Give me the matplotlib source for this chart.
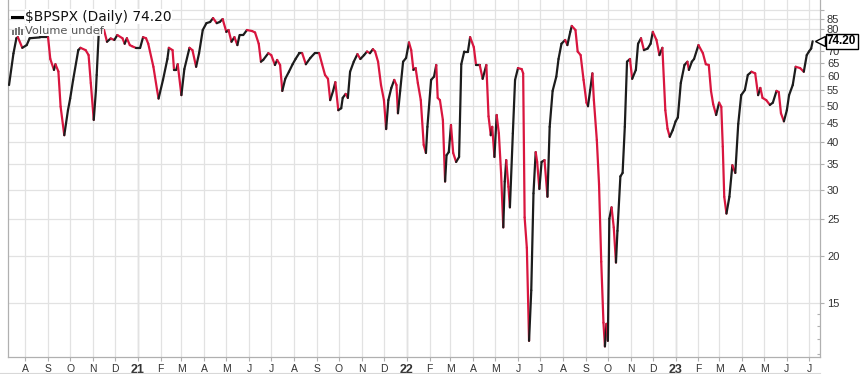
import matplotlib
matplotlib.use("Agg")
import matplotlib.pyplot as plt
import matplotlib.dates as mdates
from matplotlib.collections import LineCollection
from matplotlib.lines import Line2D
from matplotlib.patches import Rectangle
import numpy as np
import pandas as pd

# ---------------- data ----------------
dates = [
    "2020-07-10", "2020-07-16", "2020-07-20", "2020-07-22", "2020-07-28", "2020-08-03", "2020-08-07",
    "2020-08-21", "2020-09-01", "2020-09-04", "2020-09-09", "2020-09-11", "2020-09-15", "2020-09-18",
    "2020-09-23", "2020-09-28", "2020-10-01", "2020-10-05", "2020-10-12", "2020-10-15", "2020-10-22",
    "2020-10-26", "2020-10-29", "2020-11-02", "2020-11-05", "2020-11-06", "2020-11-09", "2020-11-16",
    "2020-11-20", "2020-11-25", "2020-11-30", "2020-12-04", "2020-12-11", "2020-12-14", "2020-12-17",
    "2020-12-21", "2020-12-24", "2020-12-29", "2021-01-04", "2021-01-08", "2021-01-12", "2021-01-15",
    "2021-01-22", "2021-01-27", "2021-01-29", "2021-02-04", "2021-02-10", "2021-02-12", "2021-02-17",
    "2021-02-19", "2021-02-22", "2021-02-24", "2021-03-01", "2021-03-05", "2021-03-12", "2021-03-16",
    "2021-03-21", "2021-03-25", "2021-03-30", "2021-04-04", "2021-04-09", "2021-04-13", "2021-04-18",
    "2021-04-22", "2021-04-26", "2021-05-01", "2021-05-04", "2021-05-08", "2021-05-12", "2021-05-16",
    "2021-05-19", "2021-05-24", "2021-05-29", "2021-06-05", "2021-06-09", "2021-06-14", "2021-06-17",
    "2021-06-20", "2021-06-27", "2021-07-01", "2021-07-06", "2021-07-09", "2021-07-13", "2021-07-16",
    "2021-07-20", "2021-07-25", "2021-07-30", "2021-08-03", "2021-08-08", "2021-08-12", "2021-08-17",
    "2021-08-23", "2021-08-29", "2021-09-04", "2021-09-08", "2021-09-12", "2021-09-16", "2021-09-19",
    "2021-09-23", "2021-09-26", "2021-09-30", "2021-10-04", "2021-10-06", "2021-10-10", "2021-10-13",
    "2021-10-16", "2021-10-21", "2021-10-26", "2021-10-30", "2021-11-04", "2021-11-08", "2021-11-12",
    "2021-11-16", "2021-11-19", "2021-11-23", "2021-11-27", "2021-12-01", "2021-12-04", "2021-12-07",
    "2021-12-11", "2021-12-15", "2021-12-18", "2021-12-20", "2021-12-23", "2021-12-27", "2021-12-31",
    "2022-01-04", "2022-01-07", "2022-01-10", "2022-01-13", "2022-01-16", "2022-01-20", "2022-01-24",
    "2022-01-27", "2022-01-29", "2022-02-03", "2022-02-07", "2022-02-10", "2022-02-12", "2022-02-15",
    "2022-02-19", "2022-02-22", "2022-02-24", "2022-02-27", "2022-03-02", "2022-03-05", "2022-03-09",
    "2022-03-13", "2022-03-16", "2022-03-20", "2022-03-25", "2022-03-28", "2022-04-02", "2022-04-05",
    "2022-04-10", "2022-04-14", "2022-04-19", "2022-04-22", "2022-04-25", "2022-04-27", "2022-04-30",
    "2022-05-03", "2022-05-06", "2022-05-09", "2022-05-12", "2022-05-14", "2022-05-16", "2022-05-19",
    "2022-05-21", "2022-05-25", "2022-05-28", "2022-06-01", "2022-06-06", "2022-06-08", "2022-06-10",
    "2022-06-13", "2022-06-16", "2022-06-19", "2022-06-22", "2022-06-25", "2022-06-27", "2022-06-30",
    "2022-07-03", "2022-07-07", "2022-07-11", "2022-07-14", "2022-07-18", "2022-07-23", "2022-07-26",
    "2022-07-30", "2022-08-04", "2022-08-07", "2022-08-11", "2022-08-13", "2022-08-18", "2022-08-21",
    "2022-08-25", "2022-08-29", "2022-09-02", "2022-09-04", "2022-09-07", "2022-09-10", "2022-09-12",
    "2022-09-16", "2022-09-19", "2022-09-22", "2022-09-25", "2022-09-27", "2022-09-29", "2022-10-01",
    "2022-10-03", "2022-10-06", "2022-10-09", "2022-10-12", "2022-10-14", "2022-10-18", "2022-10-21",
    "2022-10-24", "2022-10-27", "2022-10-31", "2022-11-03", "2022-11-08", "2022-11-11", "2022-11-15",
    "2022-11-19", "2022-11-24", "2022-11-28", "2022-12-01", "2022-12-06", "2022-12-10", "2022-12-14",
    "2022-12-18", "2022-12-21", "2022-12-24", "2022-12-28", "2023-01-01", "2023-01-04", "2023-01-08",
    "2023-01-13", "2023-01-17", "2023-01-19", "2023-01-23", "2023-01-26", "2023-02-01", "2023-02-07",
    "2023-02-11", "2023-02-15", "2023-02-18", "2023-02-21", "2023-02-25", "2023-03-01", "2023-03-04",
    "2023-03-06", "2023-03-08", "2023-03-11", "2023-03-15", "2023-03-19", "2023-03-23", "2023-03-27",
    "2023-03-31", "2023-04-05", "2023-04-09", "2023-04-14", "2023-04-19", "2023-04-23", "2023-04-26",
    "2023-04-29", "2023-05-04", "2023-05-09", "2023-05-13", "2023-05-18", "2023-05-21", "2023-05-24",
    "2023-05-28", "2023-06-01", "2023-06-04", "2023-06-09", "2023-06-13", "2023-06-19", "2023-06-24",
    "2023-06-28", "2023-07-01", "2023-07-04", "2023-07-06",
]
values = [
    56.8, 68.9, 75.6, 76.1, 71.3, 72.5, 75.6,
    76.0, 76.0, 66.6, 62.3, 64.5, 61.7, 49.8,
    41.8, 48.7, 52.3, 58.6, 70.3, 71.3, 70.3,
    68.2, 57.5, 45.9, 55.1, 60.4, 79.5, 79.5,
    74.0, 75.5, 74.8, 77.1, 75.6, 73.1, 75.6,
    72.5, 72.0, 71.3, 71.3, 76.1, 75.6, 73.1,
    63.5, 55.1, 52.3, 58.6, 66.6, 71.3, 70.3,
    62.3, 62.3, 64.5, 53.4, 62.6, 71.3, 70.3,
    63.5, 69.0, 79.5, 82.9, 83.5, 85.5, 82.9,
    83.5, 85.0, 78.6, 79.5, 74.0, 76.1, 72.5,
    77.1, 77.1, 79.5, 79.0, 78.3, 73.1, 65.5,
    66.2, 69.0, 68.2, 64.2, 66.2, 64.2, 54.8,
    59.0, 61.6, 64.5, 66.6, 69.0, 69.0, 64.5,
    67.0, 69.0, 69.0, 64.5, 60.4, 59.0, 51.8,
    54.8, 57.8, 48.7, 49.3, 52.5, 53.8, 52.5,
    61.6, 65.5, 68.6, 66.6, 68.2, 69.7, 69.0,
    70.7, 69.7, 65.5, 56.8, 51.8, 43.4, 51.8,
    55.8, 58.6, 56.8, 47.8, 54.8, 65.5, 67.0,
    73.7, 70.3, 62.3, 63.0, 57.5, 51.8, 39.4,
    37.5, 44.0, 58.6, 59.8, 64.2, 52.5, 51.8,
    45.9, 31.5, 37.0, 37.7, 44.5, 37.5, 35.5,
    36.6, 64.5, 69.7, 69.7, 76.1, 71.6, 64.2,
    64.2, 59.0, 64.2, 46.9, 41.8, 44.0, 36.6,
    47.3, 42.3, 33.2, 23.8, 31.5, 35.9, 30.5,
    26.9, 42.3, 58.6, 63.0, 62.6, 61.0, 25.3,
    21.0, 11.9, 16.2, 29.3, 37.7, 35.5, 30.1,
    35.5, 35.9, 28.7, 44.0, 54.8, 59.8, 66.6,
    73.1, 74.8, 72.5, 78.6, 81.5, 79.5, 69.7,
    68.2, 58.6, 51.0, 49.9, 55.1, 61.0, 51.8,
    40.6, 31.0, 19.3, 13.3, 11.5, 13.2, 11.9,
    25.1, 26.9, 23.8, 19.2, 23.3, 32.5, 33.2,
    44.0, 65.5, 66.6, 59.0, 62.3, 73.1, 75.6,
    70.3, 71.0, 73.1, 78.6, 74.8, 68.2, 71.3,
    48.7, 43.5, 41.4, 43.1, 45.5, 46.6, 57.5,
    64.2, 65.5, 62.3, 65.5, 66.6, 72.5, 69.0,
    64.5, 64.2, 54.8, 50.5, 47.3, 51.0, 49.7,
    39.0, 28.7, 25.9, 28.7, 34.8, 33.2, 44.8,
    53.4, 55.1, 60.4, 61.6, 61.0, 53.4, 55.8,
    52.5, 51.8, 50.3, 51.0, 54.8, 54.4, 47.8,
    45.5, 48.7, 53.4, 56.8, 63.5, 63.0, 61.6,
    68.2, 69.7, 71.0, 74.2,
]

symbol_label = r"\$BPSPX (Daily) 74.20"
volume_label = "Volume undef"
last_label = "74.20"
last_value = 74.20
ytick_values = [15, 20, 25, 30, 35, 40, 45, 50, 55, 60, 65, 70, 75, 80, 85, 90]
ytick_labels = ["15", "20", "25", "30", "35", "40", "45", "50", "55", "60", "65", "70", "", "80", "85", ""]
yminor_values = [11, 12, 13, 14]
month_start = "2020-08-01"
month_end = "2023-07-01"
x_start = "2020-07-09"
x_end = "2023-07-16"
y_limits = (10.8, 95.5)

# ---------------- figure ----------------
W, H = 864, 374
fig = plt.figure(figsize=(W / 100, H / 100), dpi=100)
ax_l, ax_r, ax_b, ax_t = 8.3, 820, 356.7, 0
ax = fig.add_axes([ax_l / W, (H - ax_b) / H, (ax_r - ax_l) / W, (ax_b - ax_t) / H])

RED = "#d9163f"
BLACK = "#1c1c1c"
GRID = "#e2e2e2"
SPINE = "#b0b0b0"
TXT = "#333333"

x = mdates.date2num(pd.to_datetime(dates))
y = np.array(values)
pts = np.column_stack([x, y])
segs = np.stack([pts[:-1], pts[1:]], axis=1)
cols = [BLACK if y[i + 1] >= y[i] else RED for i in range(len(y) - 1)]

ax.set_yscale("log")
ax.set_xlim(mdates.date2num(pd.Timestamp(x_start)), mdates.date2num(pd.Timestamp(x_end)))
ax.set_ylim(*y_limits)

lc = LineCollection(segs, colors=cols, linewidths=1.6, capstyle="round", joinstyle="round", zorder=3)
ax.add_collection(lc)

# y axis (right)
ax.yaxis.tick_right()
ax.set_yticks(ytick_values)
ax.set_yticklabels(ytick_labels)
ax.set_yticks(yminor_values, minor=True)
ax.yaxis.set_minor_formatter(matplotlib.ticker.NullFormatter())
ax.tick_params(axis="y", which="major", length=3, width=0.8, color=SPINE, labelsize=8,
               labelcolor=TXT, pad=2)
ax.tick_params(axis="y", which="minor", length=2, width=0.8, color=SPINE, direction="in")
for lab in ax.get_yticklabels():
    lab.set_fontfamily("Liberation Sans")

# x axis months
months = pd.date_range(month_start, month_end, freq="MS")
ax.set_xticks(mdates.date2num(months))
xlabels = [m.strftime("%y") if m.month == 1 else m.strftime("%b")[0] for m in months]
ax.set_xticklabels(xlabels)
ax.tick_params(axis="x", length=3, width=0.8, color=SPINE, labelsize=7.5, labelcolor=TXT, pad=2)
for lab, m in zip(ax.get_xticklabels(), months):
    lab.set_fontfamily("Liberation Sans")
    if m.month == 1:
        lab.set_fontweight("bold")
        lab.set_fontsize(9)

# grid
ax.grid(True, which="major", color=GRID, linewidth=0.9, zorder=0)
ax.set_axisbelow(True)
for m in months:
    if m.month == 1:
        ax.axvline(mdates.date2num(m), color="#cfcfcf", linewidth=1.0, zorder=0.5)

for side in ["left", "bottom", "right"]:
    ax.spines[side].set_color(SPINE)
    ax.spines[side].set_linewidth(0.9)
ax.spines["top"].set_visible(False)

# legend-like header
fig.add_artist(Line2D([12 / W, 22 / W], [1 - 16.5 / H, 1 - 16.5 / H], color="black", linewidth=2.2))
fig.text(25 / W, 1 - 16.5 / H, symbol_label, fontsize=9.9, color="#111111", va="center", ha="left",
         family="DejaVu Sans", bbox=dict(fc="white", ec="none", pad=0.3))
# small volume-bars icon
for bx, bh in [(12, 5), (15, 7), (18, 8), (21, 6)]:
    fig.add_artist(Rectangle((bx / W, (H - 35) / H), 2 / W, bh / H, transform=fig.transFigure,
                             facecolor="#777777", edgecolor="none"))
fig.text(25 / W, 1 - 30.5 / H, volume_label, fontsize=8.2, color="#555555", va="center", ha="left",
         family="DejaVu Sans", bbox=dict(fc="white", ec="none", pad=0.2, alpha=0.85))

# last value tag
ax.plot([1.0], [last_value], marker="<", markersize=7, markerfacecolor="white", markeredgecolor="black",
        markeredgewidth=1.0, transform=ax.get_yaxis_transform(), clip_on=False, zorder=5)
ax.annotate(last_label, xy=(1.0, last_value), xycoords=ax.get_yaxis_transform(), xytext=(5, 0),
            textcoords="offset points", ha="left", va="center", fontsize=8.5, fontweight="bold",
            family="Liberation Sans", color="black", zorder=6,
            bbox=dict(boxstyle="square,pad=0.12", fc="white", ec="black", lw=1.0))

# faint outer bottom line
fig.add_artist(Line2D([0, ax_r / W], [1 - 372.5 / H, 1 - 372.5 / H], color="#d8d8d8", linewidth=0.8))

fig.savefig("out.png", dpi=100, facecolor="white")
